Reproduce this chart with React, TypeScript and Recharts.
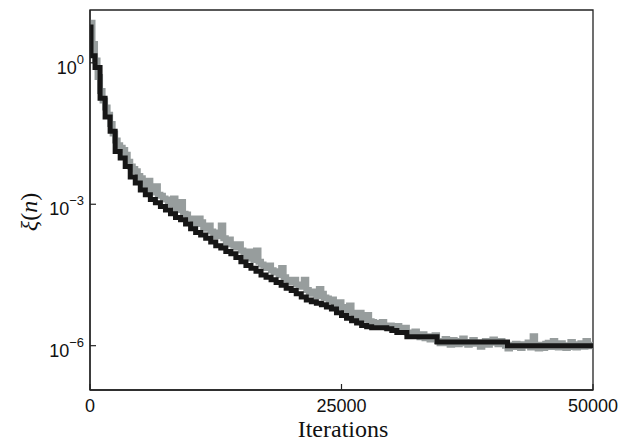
import React from 'react';
import { LineChart, Line, XAxis, YAxis, ReferenceArea } from 'recharts';

// running best (black), log10 of xi(n)
const bestIters = [
  0, 100, 500, 1000, 1500, 2000, 2500, 3000, 3500, 4000, 4500, 5000, 5500, 6000,
  6500, 7000, 7500, 8000, 8500, 9000, 9500, 10000, 10500, 11000, 11500, 12000,
  12500, 13000, 13500, 14000, 14500, 15000, 15500, 16000, 16500, 17000, 17500,
  18000, 18500, 19000, 19500, 20000, 20500, 21000, 21500, 22000, 22500, 23000,
  23500, 24000, 24500, 25000, 25500, 26000, 26500, 27000, 27500, 28000, 29500,
  30000, 30500, 31500, 34500, 41500, 50000,
];
const bestLog = [
  0.76, 0.15, -0.1, -0.75, -1.15, -1.45, -1.88, -2.02, -2.2, -2.42, -2.55, -2.7,
  -2.8, -2.9, -2.97, -3.05, -3.12, -3.2, -3.28, -3.33, -3.42, -3.52, -3.6, -3.65,
  -3.72, -3.8, -3.88, -3.93, -4.0, -4.05, -4.13, -4.22, -4.3, -4.36, -4.42, -4.5,
  -4.55, -4.6, -4.66, -4.72, -4.78, -4.83, -4.9, -4.97, -5.03, -5.07, -5.1, -5.13,
  -5.18, -5.22, -5.3, -5.36, -5.42, -5.47, -5.52, -5.57, -5.6, -5.62, -5.64,
  -5.68, -5.72, -5.81, -5.92, -6.0, -6.0,
];

// current value (gray), sampled every 250 iterations, log10 of xi(n)
const currentLog = [
  0.85, 0.4, 0.05, -0.3, -0.6, -0.8, -0.95, -1.1, -1.3, -1.5,
  -1.65, -1.75, -1.8, -1.85, -1.95, -2.1, -2.2, -2.25, -2.3, -2.4,
  -2.45, -2.55, -2.6, -2.5, -2.7, -2.75, -2.62, -2.8, -2.82, -2.88,
  -2.9, -2.95, -3.0, -2.88, -3.1, -3.12, -2.95, -3.2, -3.22, -3.3,
  -3.3, -3.35, -3.42, -3.3, -3.38, -3.5, -3.52, -3.45, -3.58, -3.62,
  -3.68, -3.6, -3.45, -3.72, -3.82, -3.75, -3.85, -3.88, -3.92, -3.85,
  -3.98, -4.02, -4.1, -4.0, -4.15, -4.18, -3.98, -4.22, -4.28, -4.3,
  -4.35, -4.3, -4.4, -4.45, -4.42, -4.5, -4.35, -4.55, -4.6, -4.62,
  -4.65, -4.6, -4.7, -4.75, -4.72, -4.6, -4.82, -4.88, -4.9, -4.85,
  -4.95, -4.8, -4.9, -4.98, -5.0, -5.05, -5.02, -5.12, -5.15, -5.08,
  -5.18, -5.22, -5.25, -5.15, -5.3, -5.32, -5.38, -5.3, -5.42, -5.45,
  -5.35, -5.48, -5.5, -5.55, -5.52, -5.58, -5.5, -5.6, -5.62, -5.57,
  -5.6, -5.64, -5.58, -5.68, -5.7, -5.62, -5.72, -5.78, -5.75, -5.7,
  -5.78, -5.82, -5.76, -5.84, -5.8, -5.87, -5.82, -5.78, -5.9, -5.95,
  -5.9, -5.86, -5.95, -5.98, -5.88, -5.92, -5.97, -5.9, -5.85, -5.95,
  -5.98, -5.92, -5.88, -5.96, -5.93, -6.02, -5.95, -5.9, -5.98, -5.94,
  -5.87, -5.92, -5.97, -5.9, -5.95, -6.0, -6.06, -5.98, -6.03, -5.96,
  -6.02, -6.05, -5.97, -6.0, -5.93, -6.04, -5.8, -6.02, -6.06, -5.98,
  -6.05, -5.96, -5.94, -6.03, -5.9, -6.0, -6.04, -5.95, -5.99, -6.05,
  -6.03, -5.92, -5.97, -6.04, -6.0, -5.95, -6.02, -5.9, -5.98, -6.01,
  -5.92,
];
const currentStep = 250;

const xTicks = [0, 25000, 50000];
const yTickExps = [0, -3, -6];

const bestData = bestIters.map((it, i) => ({ iter: it, v: Math.pow(10, bestLog[i]) }));
const currentData = currentLog.map((l, i) => ({ iter: i * currentStep, v: Math.pow(10, l) }));
const yTicks = yTickExps.map((e) => Math.pow(10, e));

const yMin = Math.pow(10, -6.94);
const yMax = Math.pow(10, 1.12);

const sans = '"Liberation Sans", Arial, sans-serif';
const serif = '"Liberation Serif", "Times New Roman", serif';

const XTick = (props: any) => {
  const { x, y, payload } = props;
  return (
    <g>
      <line x1={x} y1={y} x2={x} y2={y - 6} stroke="#222" strokeWidth={1.2} />
      <text x={x} y={y + 22} textAnchor="middle" fontFamily={sans} fontSize={18} fill="#111">
        {payload.value}
      </text>
    </g>
  );
};

const YTick = (props: any) => {
  const { x, y, payload } = props;
  const exp = Math.round(Math.log10(payload.value));
  return (
    <g>
      <line x1={x} y1={y} x2={x + 6} y2={y} stroke="#222" strokeWidth={1.2} />
      <text x={x - 6} y={y + 11} textAnchor="end" fontFamily={sans} fontSize={18} fill="#111">
        10
        <tspan dy={-10} fontSize={13}>
          {exp === 0 ? '0' : '\u2212' + Math.abs(exp)}
        </tspan>
      </text>
    </g>
  );
};

const App = () => {
  return (
    <div style={{ position: 'absolute', left: 0, top: 0, width: 629, height: 442, background: '#fff' }}>
      <LineChart
        width={629}
        height={442}
        margin={{ top: 10, right: 36, left: 30, bottom: 12 }}
      >
        <XAxis
          dataKey="iter"
          type="number"
          domain={[0, 50000]}
          ticks={xTicks}
          height={40}
          tickSize={0}
          tickMargin={0}
          tickLine={false}
          tick={(p: any) => <XTick {...p} />}
          axisLine={{ stroke: '#222', strokeWidth: 1.3 }}
          allowDataOverflow
        />
        <YAxis
          dataKey="v"
          scale="log"
          type="number"
          domain={[yMin, yMax]}
          ticks={yTicks}
          width={60}
          tickSize={0}
          tickMargin={0}
          tickLine={false}
          tick={(p: any) => <YTick {...p} />}
          axisLine={{ stroke: '#222', strokeWidth: 1.3 }}
          allowDataOverflow
        />
        <ReferenceArea
          x1={0}
          x2={50000}
          y1={yMin}
          y2={yMax}
          fill="none"
          stroke="#222"
          strokeWidth={1.3}
          ifOverflow="visible"
        />
        <Line
          data={currentData}
          dataKey="v"
          type="stepAfter"
          stroke="#979d9d"
          strokeWidth={6}
          dot={false}
          isAnimationActive={false}
        />
        <Line
          data={bestData}
          dataKey="v"
          type="stepAfter"
          stroke="#161616"
          strokeWidth={5}
          dot={false}
          isAnimationActive={false}
        />
      </LineChart>
      <div
        style={{
          position: 'absolute',
          left: 0,
          top: 416,
          width: 686,
          textAlign: 'center',
          fontFamily: serif,
          fontSize: 24,
          lineHeight: '26px',
          color: '#111',
        }}
      >
        Iterations
      </div>
      <div
        style={{
          position: 'absolute',
          left: 29,
          top: 212,
          transform: 'translate(-50%, -50%) rotate(-90deg)',
          fontFamily: serif,
          fontSize: 24,
          lineHeight: '28px',
          color: '#111',
          whiteSpace: 'nowrap',
        }}
      >
        <i>ξ</i>(<i>n</i>)
      </div>
    </div>
  );
};

export default App;
